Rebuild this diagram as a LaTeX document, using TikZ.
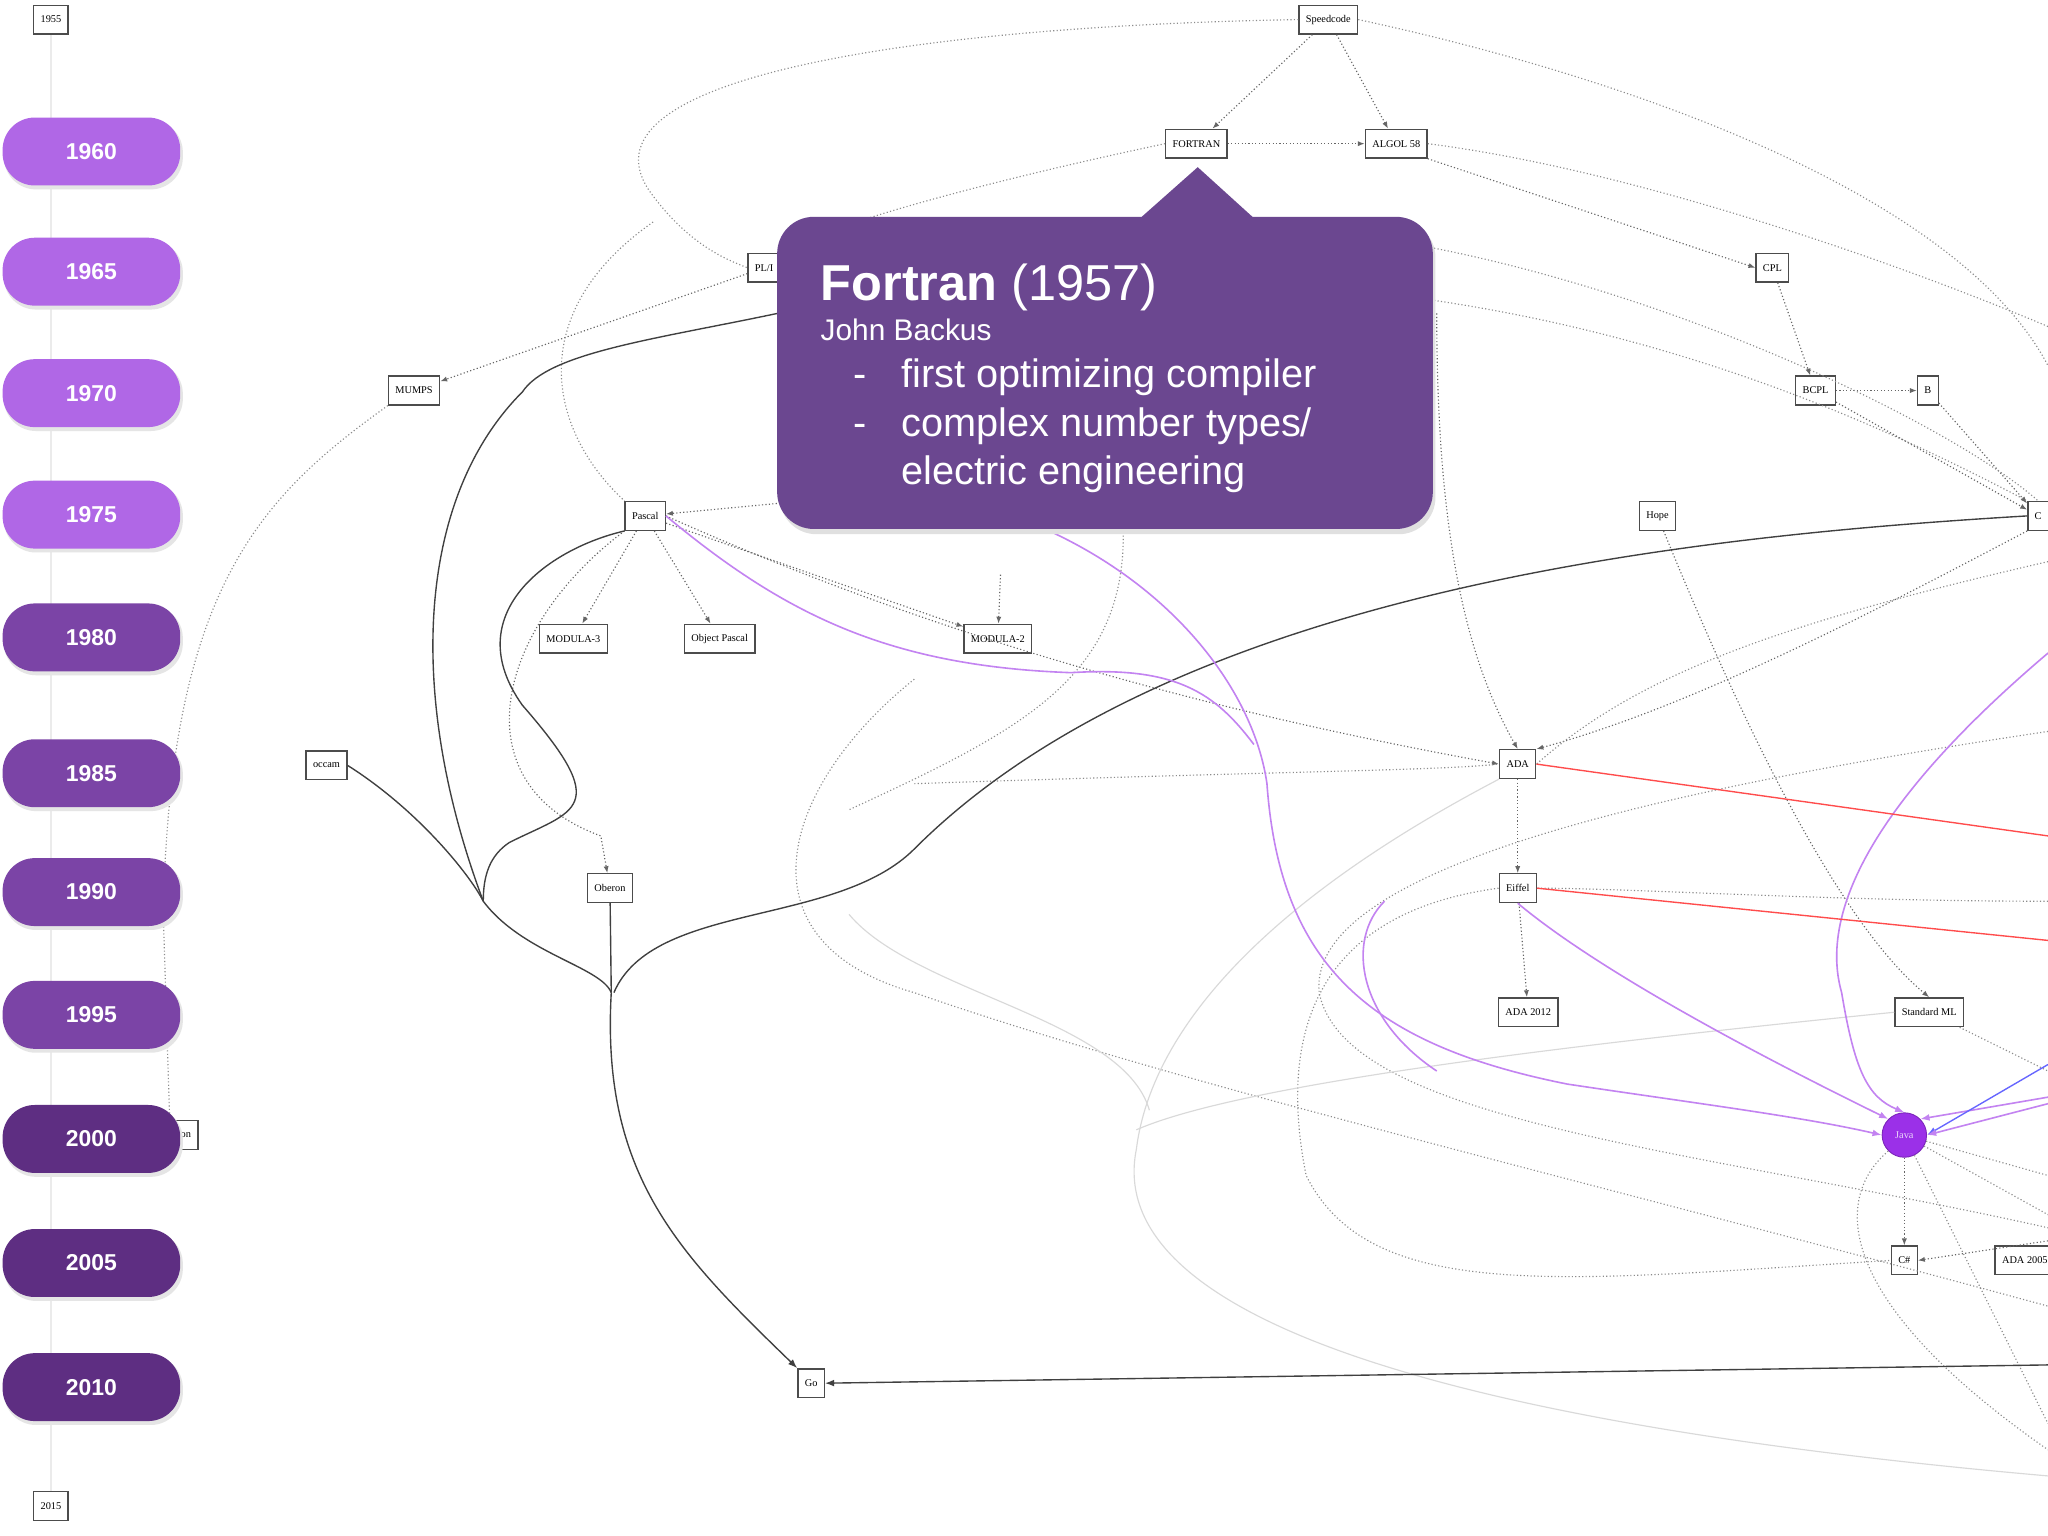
\documentclass[tikz,border=0pt]{standalone}
\usepackage{fontspec}
\setmainfont{Liberation Serif}
\setsansfont{Liberation Sans}
\usetikzlibrary{arrows.meta}
\definecolor{pillA}{HTML}{B067E6}
\definecolor{pillB}{HTML}{7B44A6}
\definecolor{pillC}{HTML}{5E2E82}
\definecolor{callout}{HTML}{6B4790}
\definecolor{javac}{HTML}{9B30E8}
\tikzset{
  x=0.02cm,y=-0.02cm,
  pill/.style={rounded corners=14pt,minimum width=136*0.02cm,minimum height=52*0.02cm,text=white,font=\sffamily\bfseries\fontsize{10}{12}\selectfont},
  lang/.style={draw=black!70,fill=white,font=\fontsize{4.5}{5}\selectfont,minimum height=22*0.02cm,inner xsep=3pt,line width=0.6pt},
  dot/.style={densely dotted,black!60,line width=0.5pt,-{Latex[length=3pt]}},
  dotn/.style={densely dotted,black!45,line width=0.5pt},
  solid1/.style={black!75,line width=0.6pt},
  purp/.style={javac!60,line width=0.7pt},
  redl/.style={red!70,line width=0.6pt},
  faint/.style={black!15,line width=0.5pt},
}
\begin{document}
\begin{tikzpicture}
\useasboundingbox (0,0) rectangle (1568,1176);
\fill[white] (0,0) rectangle (1568,1176);
\begin{scope}
\clip (0,0) rectangle (1568,1176);
% timeline
\draw[black!8,line width=0.5pt] (39,26) -- (39,1142);
% nodes
\node[lang] (y55) at (39,15) {1955};
\node[lang] (y15) at (39,1153) {2015};
\node[lang] (spd) at (1017,15) {Speedcode};
\node[lang] (for) at (916,110) {FORTRAN};
\node[lang] (alg) at (1069,110) {ALGOL 58};
\node[lang] (pli) at (585,205) {PL/I};
\node[lang] (cpl) at (1357,205) {CPL};
\node[lang] (bcp) at (1390,299) {BCPL};
\node[lang] (bb) at (1476,299) {B};
\node[lang] (mum) at (317,299) {MUMPS};
\node[lang] (pas) at (494,395) {Pascal};
\node[lang] (hop) at (1269,395) {Hope};
\node[lang,anchor=west] (cc) at (1552,395) {C};
\node[lang] (m3) at (439,489) {MODULA-3};
\node[lang] (op) at (551,489) {Object Pascal};
\node[lang] (m2) at (764,489) {MODULA-2};
\node[lang] (occ) at (250,586) {occam};
\node[lang] (ada) at (1162,585) {ADA};
\node[lang] (obe) at (467,680) {Oberon};
\node[lang] (eif) at (1162,680) {Eiffel};
\node[lang] (a12) at (1170,775) {ADA 2012};
\node[lang] (sml) at (1477,775) {Standard ML};
\node[lang] (q) at (135,869) {Python};
\node[circle,fill=javac,draw=javac!80!black,minimum size=34*0.02cm,inner sep=0pt,text=white!80!javac,font=\fontsize{4.5}{5}\selectfont] (jav) at (1458,869) {Java};
\node[lang] (cs) at (1458,965) {C\#};
\node[lang,anchor=west] (a20) at (1527,965) {ADA 2005};
\node[lang] (go) at (621,1059) {Go};
\coordinate (rgt1) at (1568,1045);
\coordinate (rgt2) at (1568,640);
\coordinate (rgt3) at (1568,720);
\coordinate (rgt5) at (1568,840);
% dotted edges
\draw[dot] (spd) -- (for);
\draw[dot] (spd) -- (alg);
\draw[dotn] (spd.west) .. controls (700,20) and (430,60) .. (500,150) .. controls (530,190) and (560,200) .. (pli.west);
\draw[dotn] (spd.east) .. controls (1250,60) and (1500,150) .. (1568,280);
\draw[dot] (for) -- (alg);
\draw[dotn] (for.west) .. controls (750,140) and (600,180) .. (595,200);
\draw[dotn] (alg.east) .. controls (1250,130) and (1450,200) .. (1568,250);
\draw[dot] (alg.south east) -- (cpl.west);
\draw[dot] (cpl) -- (bcp);
\draw[dot] (bcp) -- (bb);
\draw[dot] (bb) -- (cc);
\draw[dot] (bcp) -- (cc);
\draw[dot] (pli) -- (mum);
\draw[dotn] (mum.south west) .. controls (200,380) and (130,450) .. (125,700) -- (130,860);
\draw[dot] (pas) -- (m3);
\draw[dot] (pas) -- (op);
\draw[dot] (pas) -- (m2);
\draw[dot] (pas.south west) .. controls (380,480) and (350,600) .. (460,640) -- (obe);
\draw[dot] (600,385) -- (pas);
\draw[dotn] (500,170) .. controls (400,240) and (420,330) .. (pas.north west);
\draw[dot] (766,440) -- (m2);
\draw[dot] (pas.east) .. controls (700,480) and (900,540) .. (ada.west);
\draw[dot] (1100,240) .. controls (1100,400) and (1120,500) .. (ada.north);
\draw[dot] (cc.south west) .. controls (1450,460) and (1300,540) .. (ada.north east);
\draw[dot] (ada) -- (eif);
\draw[dot] (eif) -- (a12);
\draw[dot] (hop) .. controls (1320,520) and (1400,700) .. (sml.north);
\draw[dotn] (1568,430) .. controls (1350,480) and (1250,520) .. (ada.east);
\draw[dotn] (1568,690) .. controls (1400,690) and (1250,680) .. (eif.east);
\draw[dotn] (eif.west) .. controls (1000,700) and (980,800) .. (1000,900) .. controls (1050,1000) and (1200,980) .. (cs.west);
\draw[dotn] (1098,230) .. controls (1300,260) and (1450,330) .. (cc.north west);
\draw[dotn] (1098,190) .. controls (1300,230) and (1500,330) .. (cc.north);
\draw[dotn] (700,520) .. controls (600,600) and (560,720) .. (700,760) .. controls (900,830) and (1200,900) .. (1568,1000);
\draw[dotn] (860,410) .. controls (860,520) and (780,560) .. (650,620);
\draw[dotn] (1568,560) .. controls (1300,600) and (1000,660) .. (1010,760) .. controls (1030,860) and (1300,880) .. (1568,940);
\draw[dot] (jav) -- (cs);
\draw[dotn] (jav) -- (1568,900);
\draw[dotn] (jav) -- (1568,930);
\draw[dotn] (jav) -- (1568,1090);
\draw[dot] (1568,950) -- (cs.east);
\draw[dotn] (jav.south west) .. controls (1400,920) and (1410,1000) .. (1568,1110);
\draw[dotn] (sml) -- (1568,820);
\draw[dotn] (700,600) .. controls (1000,590) and (1100,590) .. (ada.west);
% faint solid
\draw[faint] (sml.west) .. controls (1200,800) and (950,830) .. (870,865);
\draw[faint] (ada.south west) .. controls (950,700) and (880,800) .. (870,880) .. controls (850,980) and (1000,1080) .. (1568,1130);
\draw[faint] (650,700) .. controls (700,760) and (860,780) .. (880,850);
% solid dark edges
\draw[solid1] (cc.west) .. controls (1300,410) and (900,450) .. (700,650) .. controls (640,710) and (500,690) .. (470,760);
\draw[solid1] (obe) -- (468,760);
\draw[solid1] (occ.east) .. controls (320,620) and (360,670) .. (370,690) .. controls (400,730) and (460,740) .. (468,760);
\draw[solid1] (595,240) .. controls (500,260) and (420,270) .. (400,300) .. controls (320,380) and (310,530) .. (370,690);
\draw[solid1] (pas.south west) .. controls (420,420) and (350,470) .. (400,540) .. controls (470,620) and (440,620) .. (390,645) .. controls (375,655) and (370,670) .. (370,690);
\draw[solid1,-{Latex[length=4pt]}] (468,760) .. controls (460,900) and (520,960) .. (go.north west);
\draw[solid1,-{Latex[length=4pt]}] (rgt1) -- (go.east);
% purple edges
\draw[purp] (pas.east) .. controls (600,470) and (680,510) .. (820,515) .. controls (900,510) and (930,530) .. (960,570);
\draw[purp,-{Latex[length=4pt]}] (800,405) .. controls (900,450) and (960,530) .. (970,600) .. controls (980,740) and (1050,800) .. (1200,830) .. controls (1300,845) and (1380,855) .. (jav.west);
\draw[purp,-{Latex[length=4pt]}] (eif.south) .. controls (1220,740) and (1330,800) .. (jav.north west);
\draw[purp,-{Latex[length=4pt]}] (1568,500) .. controls (1450,600) and (1390,690) .. (1410,760) .. controls (1420,820) and (1430,840) .. (jav.north);
\draw[purp,-{Latex[length=4pt]}] (rgt5) -- (jav.north east);
\draw[blue!60,line width=0.6pt,-{Latex[length=4pt]}] (1568,815) -- (jav.east);
\draw[purp,-{Latex[length=4pt]}] (1568,845) -- (jav.east);
\draw[purp] (1060,690) .. controls (1030,720) and (1040,780) .. (1100,820);
% red
\draw[redl] (ada.east) -- (rgt2);
\draw[redl] (eif.east) -- (rgt3);
\end{scope}
% callout
\fill[black!12,rounded corners=16pt] (597,169) rectangle (1099,409);
\fill[callout,rounded corners=16pt] (595,166) rectangle (1097,405);
\fill[callout] (873,167) -- (917,128) -- (960,167) -- cycle;
\node[anchor=base west,text=white,font=\sffamily\fontsize{22}{25}\selectfont,inner sep=0pt] (ft) at (628,230) {\textbf{Fortran} (1957)};
\node[anchor=base west,text=white,font=\sffamily\fontsize{13}{15}\selectfont,inner sep=0pt] (jb) at (628,261) {John Backus};
\node[anchor=base west,text=white,font=\sffamily\fontsize{17.3}{20}\selectfont,inner sep=0pt] (l1) at (653,297) {-};
\node[anchor=base west,text=white,font=\sffamily\fontsize{17.3}{20}\selectfont,inner sep=0pt] (t1) at (690,297) {first optimizing compiler};
\node[anchor=base west,text=white,font=\sffamily\fontsize{17.3}{20}\selectfont,inner sep=0pt] (l2) at (653,334) {-};
\node[anchor=base west,text=white,font=\sffamily\fontsize{17.3}{20}\selectfont,inner sep=0pt] (t2) at (690,334) {complex number types/};
\node[anchor=base west,text=white,font=\sffamily\fontsize{17.3}{20}\selectfont,inner sep=0pt] (t3) at (690,371) {electric engineering};
% pills
\foreach \y/\t/\c in {116/1960/pillA,208/1965/pillA,301/1970/pillA,394/1975/pillA,488/1980/pillB,592/1985/pillB,683/1990/pillB,777/1995/pillB,872/2000/pillC,967/2005/pillC,1062/2010/pillC}{
  \fill[black!10,rounded corners=14pt] (3,\y-24) rectangle (140,\y+29);
  \node[pill,fill=\c] (p\t) at (70,\y) {\t};
}
\end{tikzpicture}
\end{document}
